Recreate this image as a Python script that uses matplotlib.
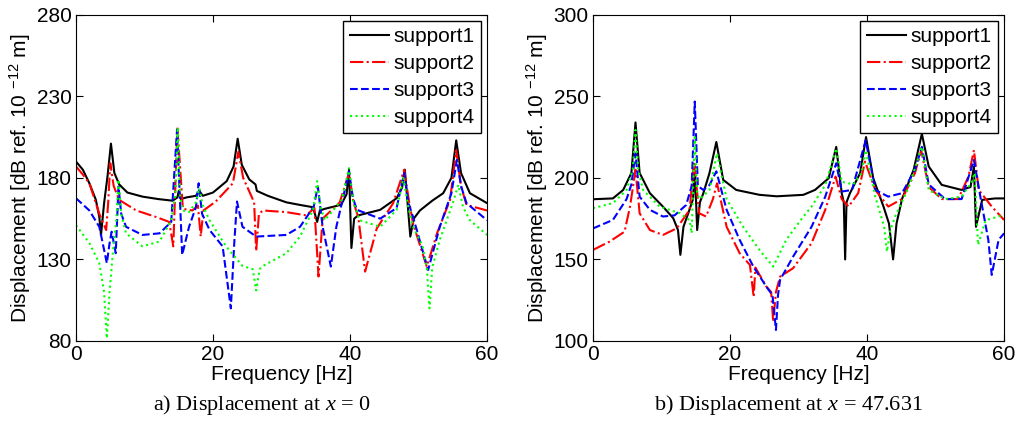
"""Displacement spectra at two positions for four support types."""

import matplotlib
matplotlib.use("Agg")
import matplotlib.pyplot as plt
import numpy as np

plt.rcParams["font.family"] = ["Liberation Sans", "DejaVu Sans"]
plt.rcParams["mathtext.fontset"] = "custom"
plt.rcParams["mathtext.rm"] = "Liberation Sans"
plt.rcParams["mathtext.it"] = "Liberation Serif:italic"

# (frequency [Hz], displacement [dB]), panel a) x = 0
a_support1 = [(0, 190), (1, 185), (1.95, 176.7), (2.9, 166.5), (3.4, 156), (3.65, 145),
              (4.1, 164.5), (4.6, 181), (5.1, 201), (5.6, 183), (6.3, 176), (7.5, 171),
              (9.7, 168.5), (12, 167), (14.1, 166), (14.8, 168), (15.0, 172), (15.3, 167),
              (16.1, 168), (17.5, 169), (18.0, 172), (18.5, 169), (20, 171), (22, 178),
              (23.0, 187), (23.6, 204), (24.2, 188), (25.3, 179), (26.2, 176), (26.4, 172),
              (28, 169), (30.7, 165), (32.7, 163.4), (34.6, 162), (35.2, 153), (35.6, 160),
              (36.3, 161), (38.7, 163.5), (39.5, 170), (39.85, 185), (40.2, 137), (40.6, 155),
              (41.2, 157), (44.4, 160.4), (46.8, 167.5), (47.6, 174), (48.0, 185), (48.8, 144),
              (49.3, 155), (50.2, 160), (52, 166), (53.6, 170.6), (54.8, 180), (55.5, 203),
              (56.2, 183), (57.5, 170.6), (60, 164.5)]
a_support2 = [(0, 187), (1, 182), (1.95, 176.7), (3.4, 158), (4.4, 148), (4.7, 165), (5.0, 189),
              (5.5, 175), (6.3, 166.5), (8.8, 160), (11.7, 156), (13.6, 153), (14.2, 138),
              (14.8, 211), (15.6, 161), (17, 160), (17.8, 163), (18.2, 144), (18.6, 160),
              (20.4, 165.5), (22.9, 176.7), (23.7, 196), (24.4, 180), (25.3, 171.6), (26.0, 165),
              (26.3, 135), (26.7, 158), (27.3, 160), (30.7, 159), (33.6, 157), (34.8, 161.5),
              (35.4, 119.5), (36.0, 155), (38.5, 165), (39.85, 183), (40.5, 165), (41.2, 156),
              (42.2, 122.5), (43.9, 149), (46.3, 164.5), (47.9, 185), (48.6, 166), (49.2, 152),
              (51.2, 125.6), (52.7, 146), (54.6, 166.5), (55.5, 197), (56.2, 175), (57, 163.4),
              (60, 160)]
a_support3 = [(0, 167.5), (1.95, 160), (3.4, 150), (4.5, 127.7), (4.9, 140), (5.2, 147),
              (5.8, 133.8), (6.2, 174.7), (6.6, 158), (7.3, 150), (9.7, 145), (12.2, 146),
              (13.9, 153), (14.75, 209.5), (15.5, 132.8), (16.5, 150), (17.5, 162), (17.9, 176.7),
              (18.4, 158), (19.5, 148), (21.4, 138), (22.6, 100), (23.1, 140), (23.5, 165.5),
              (24.3, 150), (26.3, 144), (30.7, 145), (32.7, 150), (34.7, 162.4), (35.3, 174.7),
              (36.0, 150), (37.2, 125.6), (38.0, 150), (38.8, 164.5), (39.85, 184), (40.4, 168),
              (41.0, 160.4), (44.4, 155), (46.8, 161.5), (47.9, 183), (48.5, 165), (49.2, 156),
              (51.4, 123.5), (53.1, 150), (54.8, 170.6), (55.6, 191), (56.2, 175), (57, 164.5),
              (60, 154)]
a_support4 = [(0, 151), (1.95, 140), (3.4, 127.7), (4.1, 110), (4.5, 81.6), (4.9, 110),
              (5.4, 135), (5.9, 155), (6.2, 179), (6.6, 158), (7.3, 146), (9.7, 138),
              (12.2, 141), (13.9, 154), (14.5, 170), (14.85, 211), (15.2, 168), (15.6, 160),
              (16.5, 159), (17.5, 165), (18, 173.7), (18.5, 163), (19.5, 154), (21.9, 138),
              (24.3, 126), (25.8, 124), (26.3, 111), (26.8, 124), (27.3, 126), (30.7, 133.8),
              (32.7, 144), (34.6, 160.4), (35.2, 178), (35.7, 162), (36.3, 154), (38.8, 166.5),
              (39.85, 186), (40.5, 165), (41.4, 154), (44.4, 150), (46.8, 160.4), (47.8, 180),
              (48.5, 162), (49.2, 150), (50.6, 138), (51.2, 125), (51.6, 100), (52.0, 125),
              (53.1, 142), (55.0, 164.5), (55.8, 175.7), (56.5, 162), (57.5, 154), (60, 145)]

# panel b) x = 47.631
b_support1 = [(0, 186.9), (2.9, 187.4), (4.4, 192.6), (5.6, 203), (6.2, 234), (6.8, 203),
              (8.3, 190.6), (10.2, 182.4), (11.7, 175.3), (12.4, 168), (12.75, 152.8), (13.2, 170),
              (13.9, 178.3), (14.6, 187), (14.85, 207), (15.2, 168), (15.6, 185), (16.1, 190.6),
              (17.0, 203), (18.0, 222), (19.0, 198.8), (20.9, 192.6), (24.3, 189.6), (26.8, 188.7),
              (30.7, 189.6), (32.4, 192.6), (34.4, 199.8), (35.5, 219), (36.3, 190.6), (36.6, 185),
              (36.8, 150), (37.0, 185), (37.5, 190.6), (39.0, 203), (39.85, 225), (40.9, 199.8),
              (42.4, 182.4), (43.2, 172), (43.8, 150), (44.3, 172), (45.1, 187), (46.8, 205),
              (48.0, 227), (49.0, 207), (50.9, 195.7), (53.8, 192.6), (55.1, 194.4), (55.6, 207),
              (55.9, 170), (56.8, 186.5), (58.7, 187.4), (60, 187.4)]
b_support2 = [(0, 155.8), (2.4, 160.9), (4.6, 167), (5.4, 182.4), (6.2, 205), (6.8, 178.3),
              (8.3, 168), (10.2, 165), (12.2, 169), (14.1, 180.4), (14.75, 210), (15.5, 178.3),
              (16.5, 176.3), (17.5, 187), (18.1, 196.7), (19.5, 170), (21.4, 153.8), (22.9, 146.6),
              (23.45, 127), (23.7, 145), (25.3, 133.3), (26.0, 130), (26.3, 111.8), (26.7, 130),
              (27.3, 139.4), (29.2, 144.6), (31.9, 160), (33.9, 180.4), (35.4, 200.8), (36.3, 187),
              (37.3, 182.4), (38.7, 190.6), (39.7, 210), (41.2, 192.6), (43.1, 182.4), (45.1, 187),
              (47.0, 203), (47.9, 217), (49.0, 194.4), (50.9, 187), (53.3, 187), (54.8, 200.8),
              (55.6, 217), (56.3, 192.6), (58.2, 182.4), (60, 174.2)]
b_support3 = [(0, 169), (2.9, 174.2), (4.9, 187), (5.6, 196), (6.2, 215), (6.8, 188.5),
              (8.3, 180.4), (10.2, 176.3), (11.9, 177), (13.6, 183.4), (14.4, 195), (14.85, 246.8),
              (15.3, 195), (16.1, 192.6), (17.0, 195.6), (18.0, 204), (19.5, 180.4), (21.4, 162),
              (23.4, 145.6), (25.3, 133.3), (26.2, 128), (26.7, 106.7), (27.0, 128), (27.3, 137.4),
              (29.2, 151.7), (31.9, 170), (33.9, 188.5), (35.5, 209), (36.3, 191.6), (37.8, 192.6),
              (39.8, 223), (41.2, 192.6), (43.1, 188.5), (45.1, 190.6), (47.0, 205), (48.0, 219),
              (49.0, 196), (51.4, 187), (53.8, 187), (55.6, 211), (56.6, 187), (57.7, 162),
              (58.2, 140.5), (59.2, 162), (60, 166)]
b_support4 = [(0, 181.4), (2.9, 184.5), (4.9, 192.6), (5.8, 205), (6.2, 229.4), (6.6, 205),
              (7.3, 192.6), (9.7, 182.4), (12.7, 178.3), (14.1, 174), (14.4, 166), (14.85, 225),
              (15.2, 190), (15.6, 187), (17.0, 192.6), (18.1, 215), (19.5, 187), (21.9, 170),
              (24.3, 155.8), (26.3, 145.6), (28.2, 162), (30.7, 176.3), (31.9, 182.4), (33.9, 195.6),
              (35.5, 218), (36.3, 197.6), (38.0, 196), (39.2, 203), (39.8, 217), (41.2, 188.5),
              (42.5, 170), (42.9, 154.8), (43.4, 168), (44.1, 176.3), (46.1, 194.4), (48.0, 219),
              (49.0, 192.6), (51.4, 187), (53.8, 188.5), (55.3, 197.6), (55.7, 203), (56.2, 158.9),
              (57.3, 174), (60, 177.3)]

labels = ["support1", "support2", "support3", "support4"]
styles = [("k", "-"), ("#ff0000", "-."), ("#0000ff", "--"), ("#00ff00", ":")]

panels = [
    ([a_support1, a_support2, a_support3, a_support4], (80, 280), np.arange(80, 281, 50),
     "a) Displacement at $\\mathit{x}$ = 0", 0.256),
    ([b_support1, b_support2, b_support3, b_support4], (100, 300), np.arange(100, 301, 50),
     "b) Displacement at $\\mathit{x}$ = 47.631", 0.771),
]

fig = plt.figure(figsize=(10.23, 4.23), dpi=100)
lefts = [0.0743, 0.5797]
for (series, ylim, yticks, caption, cx), left in zip(panels, lefts):
    ax = fig.add_axes([left, 0.194, 0.4018, 0.771])
    for data, lab, (c, ls) in zip(series, labels, styles):
        arr = np.array(data)
        ax.plot(arr[:, 0], arr[:, 1], color=c, linestyle=ls, linewidth=1.5, label=lab)
    ax.set_xlim(0, 60)
    ax.set_ylim(*ylim)
    ax.set_xticks([0, 20, 40, 60])
    ax.set_yticks(yticks)
    ax.tick_params(direction="in", top=True, right=True, length=5, labelsize=15, pad=3)
    ax.set_xlabel("Frequency [Hz]", fontsize=15, labelpad=1)
    ax.set_ylabel("Displacement [dB ref. 10 $^{-12}$ m]", fontsize=15, labelpad=3)
    leg = ax.legend(loc="upper right", fontsize=15, fancybox=False, framealpha=1,
                    edgecolor="k", handlelength=1.9, labelspacing=0.38, borderpad=0.3,
                    borderaxespad=0.3, handletextpad=0.2)
    leg.get_frame().set_linewidth(1.0)
    fig.text(cx, 0.043, caption, ha="center", va="center", fontsize=16,
             family="Liberation Serif")

plt.savefig("out.png", dpi=100)
